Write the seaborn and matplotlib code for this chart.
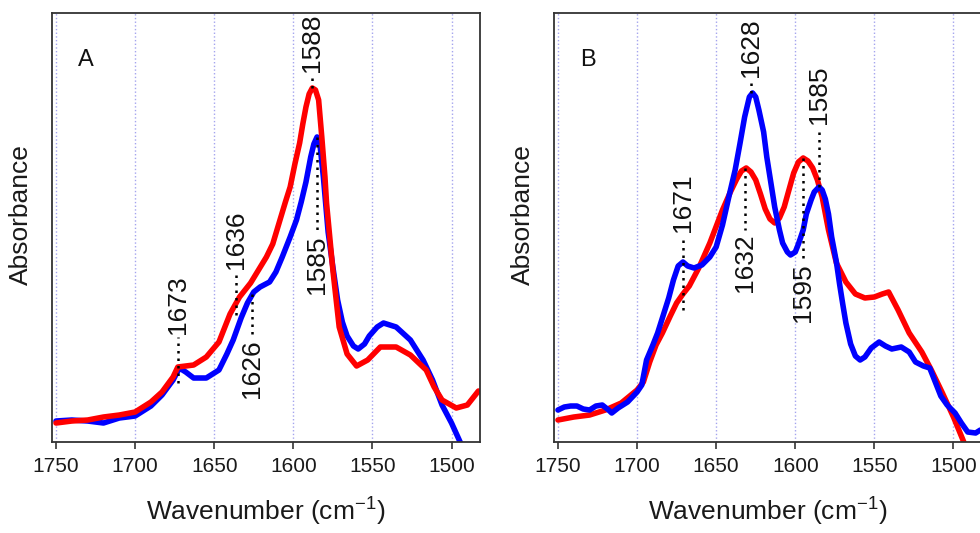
import numpy as np
import pandas as pd
import matplotlib
matplotlib.use('Agg')
import matplotlib.pyplot as plt
import seaborn as sns

# ---------- data (absorbance, arbitrary units) ----------
a_wn_red = [1750, 1740, 1730, 1720, 1710, 1700, 1690, 1683, 1676, 1673, 1668, 1663, 1655, 1647,
            1640, 1634, 1627, 1622, 1617, 1613, 1609, 1605, 1602, 1599, 1596, 1594, 1592, 1590,
            1588, 1586, 1584, 1582, 1580, 1579, 1575, 1571, 1566, 1560, 1553, 1545, 1535, 1526,
            1516, 1511, 1506, 1497, 1490, 1485, 1483]
a_red = [0.19, 0.21, 0.22, 0.25, 0.27, 0.30, 0.40, 0.50, 0.65, 0.75, 0.76, 0.77, 0.85, 1.00,
         1.28, 1.45, 1.59, 1.72, 1.85, 1.98, 2.19, 2.40, 2.55, 2.78, 2.99, 3.18, 3.35, 3.48,
         3.54, 3.52, 3.42, 3.05, 2.65, 2.39, 1.72, 1.15, 0.88, 0.76, 0.82, 0.95, 0.95, 0.87,
         0.72, 0.55, 0.42, 0.34, 0.37, 0.47, 0.51]

a_wn_blue = [1750, 1740, 1730, 1720, 1710, 1700, 1690, 1683, 1676, 1672, 1668, 1663, 1655, 1647,
             1642, 1638, 1633, 1629, 1625, 1621, 1615, 1611, 1607, 1602, 1598, 1595, 1592, 1589,
             1587, 1585, 1583, 1581, 1578, 1575, 1572, 1569, 1566, 1562, 1559, 1555, 1552, 1547,
             1543, 1535, 1526, 1518, 1512, 1506, 1500, 1496, 1494]
a_blue = [0.21, 0.22, 0.21, 0.19, 0.24, 0.26, 0.36, 0.47, 0.62, 0.74, 0.70, 0.64, 0.64, 0.72,
          0.88, 1.02, 1.24, 1.39, 1.50, 1.55, 1.60, 1.70, 1.85, 2.05, 2.22, 2.40, 2.60, 2.85,
          2.98, 3.05, 2.95, 2.65, 2.10, 1.75, 1.42, 1.20, 1.06, 0.96, 0.93, 0.98, 1.06, 1.15,
          1.19, 1.15, 1.02, 0.82, 0.62, 0.37, 0.19, 0.05, -0.02]

b_wn_red = [1750, 1740, 1730, 1720, 1710, 1700, 1696, 1692, 1688, 1684, 1679, 1675, 1671, 1667,
            1661, 1654, 1646, 1641, 1637, 1634, 1631, 1628, 1625, 1622, 1619, 1616, 1613, 1610,
            1607, 1604, 1601, 1598, 1595, 1592, 1589, 1586, 1583, 1579, 1574, 1568, 1562, 1556,
            1550, 1545, 1541, 1535, 1528, 1520, 1514, 1507, 1500, 1494, 1492]
b_red = [0.22, 0.25, 0.27, 0.32, 0.39, 0.52, 0.60, 0.80, 0.97, 1.09, 1.26, 1.39, 1.48, 1.56,
         1.74, 1.99, 2.32, 2.50, 2.63, 2.71, 2.74, 2.70, 2.62, 2.48, 2.33, 2.23, 2.19, 2.24,
         2.35, 2.52, 2.69, 2.80, 2.84, 2.81, 2.74, 2.62, 2.45, 2.12, 1.79, 1.60, 1.48, 1.44,
         1.45, 1.48, 1.50, 1.32, 1.09, 0.90, 0.72, 0.49, 0.25, 0.02, -0.06]

b_wn_blue = [1750, 1746, 1742, 1738, 1734, 1730, 1726, 1722, 1718, 1716, 1712, 1706, 1700, 1697,
             1694, 1690, 1687, 1684, 1680, 1677, 1674, 1671, 1668, 1664, 1659, 1654, 1650, 1646,
             1642, 1638, 1635, 1632, 1629, 1627, 1625, 1623, 1620, 1618, 1615, 1613, 1610, 1608,
             1605, 1603, 1600, 1598, 1595, 1593, 1590, 1588, 1585, 1583, 1581, 1579, 1577, 1574,
             1572, 1570, 1568, 1565, 1562, 1559, 1556, 1552, 1547, 1543, 1539, 1533, 1528, 1524,
             1519, 1515, 1512, 1508, 1504, 1499, 1495, 1491, 1486, 1483]
b_blue = [0.32, 0.35, 0.36, 0.36, 0.33, 0.32, 0.36, 0.37, 0.32, 0.29, 0.34, 0.40, 0.50, 0.57,
          0.82, 0.97, 1.09, 1.24, 1.44, 1.62, 1.76, 1.80, 1.76, 1.74, 1.77, 1.85, 1.95, 2.17,
          2.45, 2.72, 2.98, 3.25, 3.45, 3.49, 3.45, 3.32, 3.10, 2.85, 2.55, 2.35, 2.12, 1.99,
          1.90, 1.87, 1.90, 1.98, 2.12, 2.28, 2.42, 2.50, 2.55, 2.52, 2.43, 2.28, 2.05, 1.80,
          1.58, 1.38, 1.19, 0.98, 0.86, 0.82, 0.85, 0.94, 1.00, 0.96, 0.93, 0.95, 0.90, 0.80,
          0.76, 0.74, 0.62, 0.46, 0.37, 0.29, 0.19, 0.10, 0.09, 0.12]

# peak labels: wavenumber, dotted line from/to, text placed above ('up') or below ('down')
a_peaks = [1588, 1585, 1636, 1626, 1673]
a_line_from = [3.54, 3.05, 1.27, 1.48, 0.59]
a_line_to = [3.67, 2.09, 1.70, 1.06, 1.05]
a_side = ['up', 'down', 'up', 'down', 'up']

b_peaks = [1628, 1585, 1671, 1632, 1595]
b_line_from = [3.49, 2.55, 1.32, 2.74, 2.84]
b_line_to = [3.62, 3.15, 2.07, 2.12, 1.82]
b_side = ['up', 'up', 'up', 'down', 'down']

x_ticks = [1750, 1700, 1650, 1600, 1550, 1500]

# ---------- style ----------
sns.set_style('white')
plt.rcParams['font.family'] = ['Liberation Sans', 'DejaVu Sans']
plt.rcParams['mathtext.default'] = 'regular'

RED = '#ff0000'
BLUE = '#0000ff'

fig = plt.figure(figsize=(9.8, 5.33), dpi=100)
ax_a = fig.add_axes([0.0531, 0.1707, 0.4367, 0.805])
ax_b = fig.add_axes([0.5653, 0.1707, 0.4367, 0.805])


def draw_panel(ax, letter, wn_r, red, wn_b, blue, red_on_top,
               peaks, line_from, line_to, side):
    df_r = pd.DataFrame({'wn': wn_r, 'abs': red})
    df_b = pd.DataFrame({'wn': wn_b, 'abs': blue})
    order = [(df_b, BLUE), (df_r, RED)] if red_on_top else [(df_r, RED), (df_b, BLUE)]
    for d, c in order:
        sns.lineplot(data=d, x='wn', y='abs', color=c, lw=4, ax=ax,
                     estimator=None, sort=False, solid_capstyle='round',
                     solid_joinstyle='round')

    for p, y0, y1, s in zip(peaks, line_from, line_to, side):
        ax.plot([p, p], [y0, y1], color='black', ls=(0, (1, 2)), lw=1.8, zorder=5)
        if s == 'up':
            ax.text(p, y1 + 0.03, str(p), rotation=90, ha='center', va='bottom',
                    fontsize=19, color='#111')
        else:
            ax.text(p, y1 - 0.03, str(p), rotation=90, ha='center', va='top',
                    fontsize=19, color='#111')

    ax.set_xlim(1752.5, 1482)
    ax.set_ylim(0, 4.29)
    ax.set_xticks(x_ticks)
    ax.set_yticks([])
    ax.xaxis.grid(True, color='#a4a4ee', ls=':', lw=1.0)
    ax.tick_params(axis='x', direction='out', length=5, width=1.2, color='#333',
                   labelsize=15, labelcolor='#1a1a1a', pad=6, bottom=True)
    for sp in ax.spines.values():
        sp.set_color('#333')
        sp.set_linewidth(1.3)
    ax.set_xlabel('Wavenumber (cm$^{-1}$)', fontsize=19, labelpad=14, color='#1a1a1a')
    ax.set_ylabel('Absorbance', fontsize=19, color='#1a1a1a')
    ax.yaxis.set_label_coords(-0.045, 0.53)
    ax.text(0.06, 0.915, letter, transform=ax.transAxes, fontsize=17,
            ha='left', va='top', color='#111')


draw_panel(ax_a, 'A', a_wn_red, a_red, a_wn_blue, a_blue, True,
           a_peaks, a_line_from, a_line_to, a_side)
draw_panel(ax_b, 'B', b_wn_red, b_red, b_wn_blue, b_blue, False,
           b_peaks, b_line_from, b_line_to, b_side)

fig.savefig('out.png', dpi=100)
plt.close(fig)
